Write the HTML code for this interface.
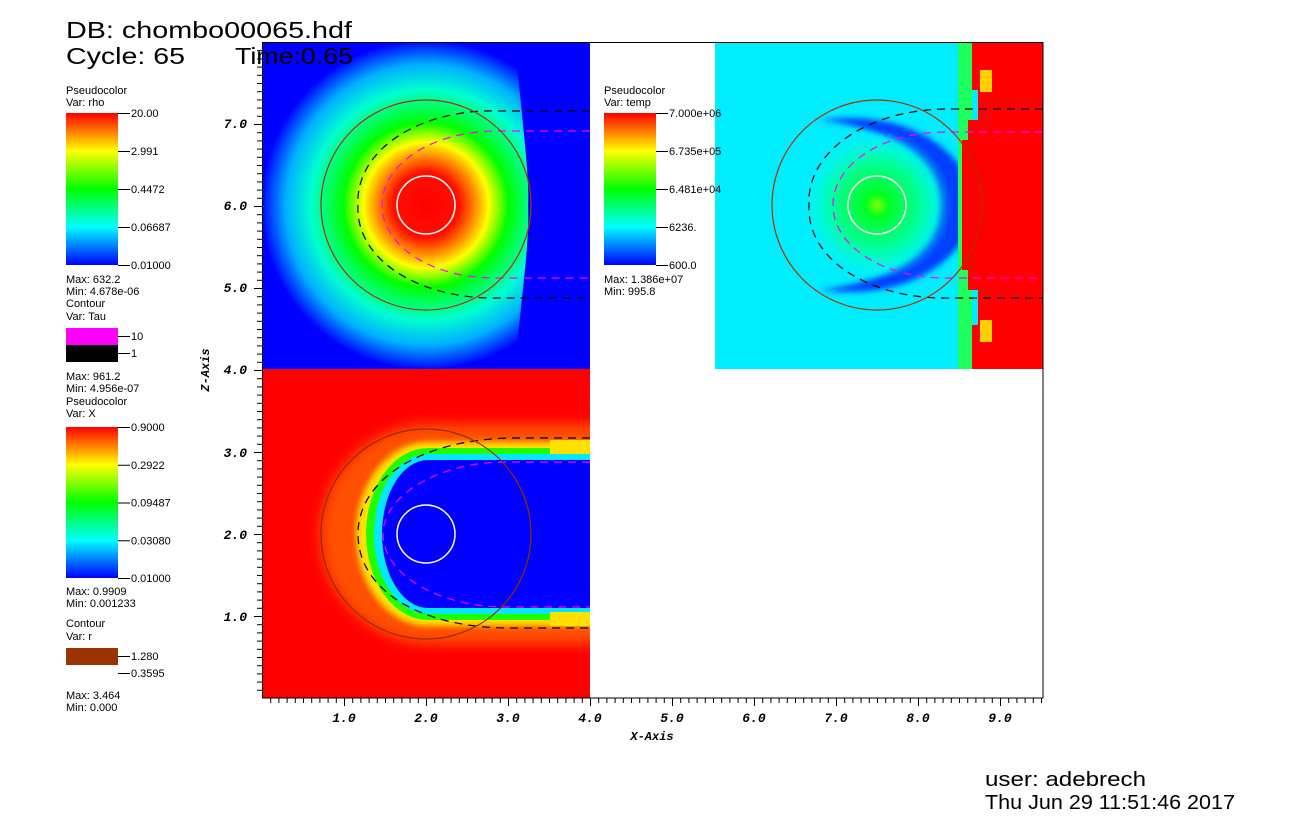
<!DOCTYPE html>
<html><head><meta charset="utf-8"><style>
body{margin:0;background:#fff;width:1313px;height:822px;overflow:hidden;font-family:"Liberation Sans",sans-serif}
</style></head><body>
<svg id="s" width="1313" height="822" xmlns="http://www.w3.org/2000/svg" font-family="Liberation Sans, sans-serif">
<defs>
<linearGradient id="cb" x1="0" y1="1" x2="0" y2="0">
<stop offset="0" stop-color="#0000ff"/><stop offset="0.25" stop-color="#00ffff"/><stop offset="0.5" stop-color="#00ff00"/><stop offset="0.75" stop-color="#ffff00"/><stop offset="1" stop-color="#ff0000"/>
</linearGradient>
<radialGradient id="rho" cx="426" cy="205" r="165" gradientUnits="userSpaceOnUse">
<stop offset="0" stop-color="#ff0000"/><stop offset="0.2" stop-color="#ff1000"/><stop offset="0.3" stop-color="#ff9000"/><stop offset="0.38" stop-color="#ffff00"/><stop offset="0.5" stop-color="#00ff00"/><stop offset="0.7" stop-color="#00ffd0"/><stop offset="0.85" stop-color="#00b0ff"/><stop offset="1" stop-color="#0000ff"/>
</radialGradient>
<radialGradient id="tc" cx="877" cy="205" r="75" gradientUnits="userSpaceOnUse">
<stop offset="0" stop-color="#80ff00"/><stop offset="0.15" stop-color="#00ff20"/><stop offset="0.6" stop-color="#00ffa0"/><stop offset="1" stop-color="#00ffe8" stop-opacity="0"/>
</radialGradient>
<clipPath id="bc"><rect x="262" y="369" width="328" height="329"/></clipPath>
<clipPath id="rc"><path d="M262,42 H515 C522,120 530,180 528,205 C530,240 522,290 515,369 H262Z"/></clipPath>
<filter id="bl"><feGaussianBlur stdDeviation="6"/></filter>
<filter id="bl2"><feGaussianBlur stdDeviation="3"/></filter>
</defs>
<rect x="262" y="42" width="328" height="327" fill="#0000ff"/>
<g clip-path="url(#rc)"><rect x="262" y="42" width="328" height="327" fill="url(#rho)"/></g>
<rect x="262" y="369" width="328" height="329" fill="#ff0000"/>
<g clip-path="url(#bc)">
<path d="M640,424 H430 A110 110 0 0 0 430,644 H640Z" fill="#ff5000" filter="url(#bl)"/>
<path d="M640,442 H428 A72 92 0 0 0 428,626 H640Z" fill="#ffe000" filter="url(#bl2)"/>
<path d="M640,448 H428 A62 86 0 0 0 428,620 H640Z" fill="#20ff00"/>
<path d="M640,454 H428 A54 80 0 0 0 428,614 H640Z" fill="#00e8ff"/>
<path d="M640,460 H428 A46 74 0 0 0 428,608 H640Z" fill="#0000ff"/>
<rect x="550" y="440" width="40" height="14" fill="#ffe000"/><rect x="550" y="612" width="40" height="14" fill="#ffe000"/>
</g>
<rect x="715" y="42" width="328" height="327" fill="#00ecff"/>
<path d="M820,120 C900,110 960,140 980,205 C960,270 900,300 820,290 C900,280 940,250 940,205 C940,160 900,130 820,120Z" fill="#0040ff" filter="url(#bl2)"/>
<rect x="790" y="120" width="170" height="170" fill="url(#tc)"/>
<rect x="958" y="42" width="14" height="327" fill="#20ff60"/>
<path d="M972,42 H1043 V369 H972 V325 H978 V290 H968 V270 H962 V140 H968 V120 H978 V90 H972Z" fill="#ff0000"/>
<rect x="980" y="70" width="12" height="22" fill="#ffd000"/><rect x="980" y="320" width="12" height="22" fill="#ffd000"/>
<g fill="none" stroke-width="1.2">
<path d="M590,111 H500 C420,108 355,150 358,205 C355,260 420,300 500,298 H590" stroke="#000" stroke-dasharray="8,6"/>
<path d="M590,131 H495 C430,132 382,165 382,205 C382,245 430,278 495,278 H590" stroke="#ff00ff" stroke-dasharray="8,6"/>
<path d="M1043,109 H951 C871,108 806,150 809,205 C806,260 871,300 951,298 H1043" stroke="#000" stroke-dasharray="8,6"/>
<path d="M1043,132 H946 C881,132 833,165 833,205 C833,245 881,278 946,278 H1043" stroke="#ff00ff" stroke-dasharray="8,6"/>
<path d="M590,438 H510 C420,440 358,480 358,534 C358,590 420,628 510,628 H590" stroke="#000" stroke-dasharray="8,6"/>
<path d="M590,462 H505 C440,462 383,495 383,534 C383,575 440,607 505,607 H590" stroke="#ff00ff" stroke-dasharray="8,6"/>
<circle cx="426" cy="205" r="105" stroke="#b03000"/>
<circle cx="877" cy="205" r="105" stroke="#b03000"/>
<circle cx="426" cy="534" r="105" stroke="#903000"/>
<circle cx="426" cy="205" r="29" stroke="#fff" stroke-width="1.5"/>
<circle cx="877" cy="205" r="29" stroke="#fff" stroke-width="1.5"/>
<circle cx="426" cy="534" r="29" stroke="#fff" stroke-width="1.5"/>
</g>
<rect x="262.5" y="42.5" width="780.5" height="655.5" fill="none" stroke="#000" stroke-width="1"/>
<g id="ticks" stroke="#000" stroke-width="1"></g>
<g font-family="Liberation Mono, monospace" font-weight="bold" font-style="italic" font-size="13" fill="#000">
<text x="247" y="128" text-anchor="end">7.0</text>
<text x="247" y="210" text-anchor="end">6.0</text>
<text x="247" y="292" text-anchor="end">5.0</text>
<text x="247" y="374" text-anchor="end">4.0</text>
<text x="247" y="457" text-anchor="end">3.0</text>
<text x="247" y="539" text-anchor="end">2.0</text>
<text x="247" y="621" text-anchor="end">1.0</text>
<text x="344" y="722" text-anchor="middle">1.0</text>
<text x="426" y="722" text-anchor="middle">2.0</text>
<text x="508" y="722" text-anchor="middle">3.0</text>
<text x="590" y="722" text-anchor="middle">4.0</text>
<text x="672" y="722" text-anchor="middle">5.0</text>
<text x="754" y="722" text-anchor="middle">6.0</text>
<text x="836" y="722" text-anchor="middle">7.0</text>
<text x="918" y="722" text-anchor="middle">8.0</text>
<text x="1000" y="722" text-anchor="middle">9.0</text>
<text x="652" y="740" text-anchor="middle" font-size="12">X-Axis</text>
<text transform="translate(209,370) rotate(-90)" text-anchor="middle" font-size="12">Z-Axis</text>
</g>
<g font-size="23" fill="#000">
<text x="66" y="38" textLength="286" lengthAdjust="spacingAndGlyphs">DB: chombo00065.hdf</text>
<text x="66" y="64" textLength="119" lengthAdjust="spacingAndGlyphs">Cycle: 65</text>
<text x="235" y="64" textLength="118" lengthAdjust="spacingAndGlyphs">Time:0.65</text>
</g>
<g font-size="20" fill="#000">
<text x="985" y="786" textLength="161" lengthAdjust="spacingAndGlyphs">user: adebrech</text>
<text x="985" y="809" textLength="250" lengthAdjust="spacingAndGlyphs">Thu Jun 29 11:51:46 2017</text>
</g>
<g font-size="11" fill="#000">
<text x="66" y="94">Pseudocolor</text><text x="66" y="106">Var: rho</text>
<rect x="66" y="113" width="52" height="152" fill="url(#cb)"/>
<text x="66" y="283">Max: 632.2</text><text x="66" y="295">Min: 4.678e-06</text>
<text x="66" y="307">Contour</text><text x="66" y="320">Var: Tau</text>
<rect x="66" y="328" width="52" height="17" fill="#ff00ff"/><rect x="66" y="345" width="52" height="17" fill="#000"/>
<text x="66" y="380">Max: 961.2</text><text x="66" y="392">Min: 4.956e-07</text>
<text x="66" y="405">Pseudocolor</text><text x="66" y="417">Var: X</text>
<rect x="66" y="427" width="52" height="151" fill="url(#cb)"/>
<text x="66" y="595">Max: 0.9909</text><text x="66" y="607">Min: 0.001233</text>
<text x="66" y="627">Contour</text><text x="66" y="640">Var: r</text>
<rect x="66" y="648" width="52" height="17" fill="#993300"/>
<text x="66" y="699">Max: 3.464</text><text x="66" y="711">Min: 0.000</text>
<text x="604" y="94">Pseudocolor</text><text x="604" y="106">Var: temp</text>
<rect x="604" y="113" width="52" height="152" fill="url(#cb)"/>
<text x="604" y="283">Max: 1.386e+07</text><text x="604" y="295">Min: 995.8</text>
</g>
<g font-size="11" fill="#000" id="lbl"></g>
</svg>
<script>
var NS="http://www.w3.org/2000/svg",t=document.getElementById('ticks'),L=document.getElementById('lbl');
function ln(a,b,c,d){var e=document.createElementNS(NS,'line');e.setAttribute('x1',a);e.setAttribute('y1',b);e.setAttribute('x2',c);e.setAttribute('y2',d);t.appendChild(e);}
function tx(x,y,s){var e=document.createElementNS(NS,'text');e.setAttribute('x',x);e.setAttribute('y',y);e.textContent=s;L.appendChild(e);}
for(var i=1;i<80;i++){var y=698-i*8.2+0.5,m=i%10==0;ln(262,y,m?254:257,y);}
for(var i=1;i<=95;i++){var x=262+i*8.2+0.5,m=i%10==0;ln(x,698,x,m?706:703);}
function leg(x,y0,y1,labs){for(var k=0;k<labs.length;k++){var y=y0+(y1-y0)*k/(labs.length-1);ln(x,y+0.5,x+12,y+0.5);tx(x+13,y+4,labs[k]);}}
leg(118,113,265,["20.00","2.991","0.4472","0.06687","0.01000"]);
leg(118,427,578,["0.9000","0.2922","0.09487","0.03080","0.01000"]);
leg(656,113,265,["7.000e+06","6.735e+05","6.481e+04","6236.","600.0"]);
ln(118,336.5,130,336.5);tx(131,340,"10");ln(118,353.5,130,353.5);tx(131,357,"1");
ln(118,656.5,130,656.5);tx(131,660,"1.280");ln(118,673.5,130,673.5);tx(131,677,"0.3595");
</script>
</body></html>
